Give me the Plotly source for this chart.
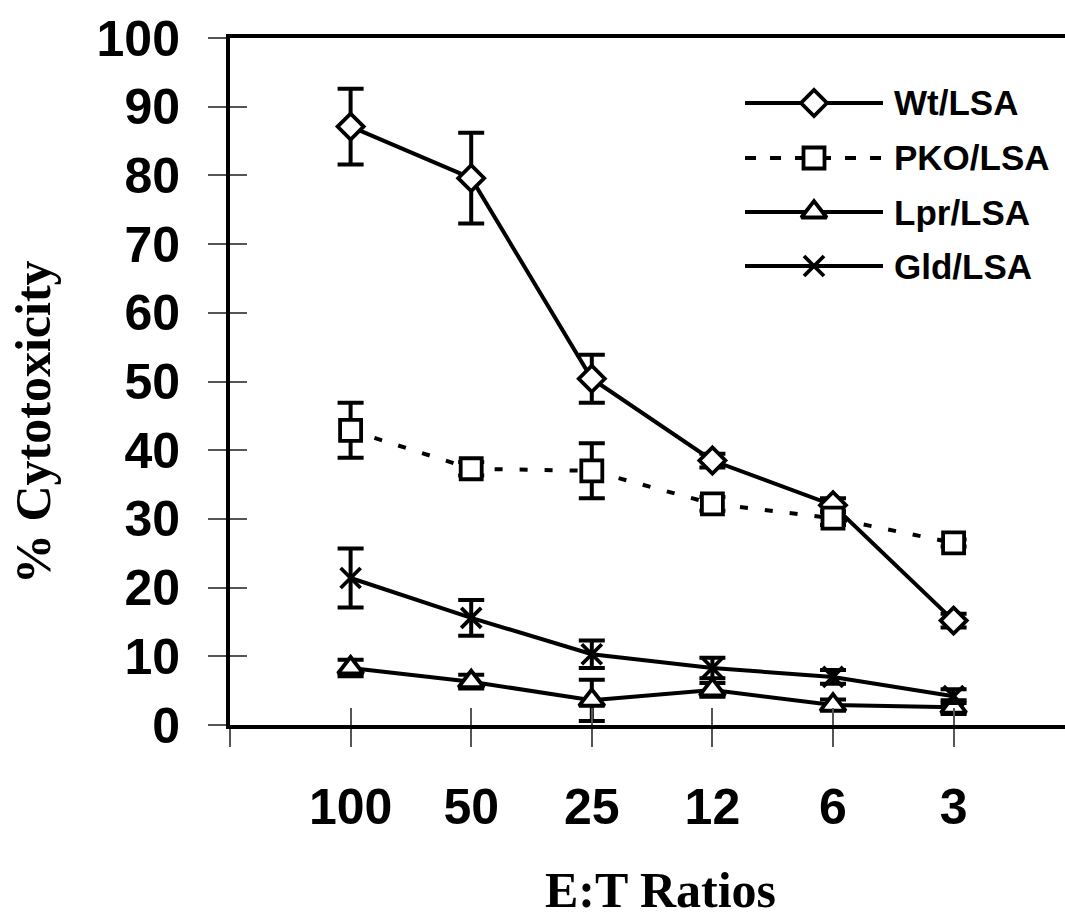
import plotly.graph_objects as go

# ---- data ----
ratios = ["100", "50", "25", "12", "6", "3"]
xpos = [1, 2, 3, 4, 5, 6]
wt = [87.1, 79.6, 50.4, 38.5, 32.0, 15.2]
wt_err = [5.5, 6.6, 3.5, 1.0, 1.0, 1.0]
pko = [42.9, 37.3, 37.0, 32.2, 30.1, 26.5]
pko_err = [4.0, 1.0, 4.0, 1.0, 1.0, 0.5]
lpr = [8.3, 6.3, 3.6, 5.1, 2.9, 2.6]
lpr_err = [1.2, 1.0, 3.0, 1.0, 0.8, 1.0]
gld = [21.4, 15.6, 10.3, 8.3, 7.0, 4.2]
gld_err = [4.3, 2.6, 2.0, 1.5, 1.0, 1.0]
series_names = ["Wt/LSA", "PKO/LSA", "Lpr/LSA", "Gld/LSA"]
y_ticks = [0, 10, 20, 30, 40, 50, 60, 70, 80, 90, 100]

W, H = 1065, 919
L, R, T, B = 230, 0, 38, 194
PW, PH = W - L - R, H - T - B
XMAX = PW / 120.6

def paper(px, py):
    return (px - L) / PW, (H - B - py) / PH

LW = 4
MLW = 3.8
styles = [
    dict(symbol="diamond", size=20, dash="solid"),
    dict(symbol="square", size=21, dash="8px,17px"),
    dict(symbol="triangle-up", size=22, dash="solid"),
    dict(symbol="x-thin", size=20, dash="solid"),
]
data = [(wt, wt_err), (pko, pko_err), (lpr, lpr_err), (gld, gld_err)]

fig = go.Figure()
for (vals, errs), st, nm in zip(data, styles, series_names):
    fig.add_trace(go.Scatter(
        x=xpos, y=vals, name=nm, mode="lines+markers",
        line=dict(color="black", width=LW, dash=st["dash"]),
        marker=dict(symbol=st["symbol"], size=st["size"], color="white",
                    line=dict(color="black", width=MLW)),
        error_y=dict(type="data", array=errs, visible=True, color="black",
                     thickness=4, width=13),
        showlegend=False, cliponaxis=False,
    ))

# overlay axes carrying the inside half of the crossing ticks
fig.add_trace(go.Scatter(x=[1], y=[0], xaxis="x2", yaxis="y2", mode="markers",
                         marker=dict(opacity=0), showlegend=False, hoverinfo="skip"))

# custom legend on a pixel-mapped overlay axis
leg_y = [103, 158, 212, 266]
leg_dash = ["solid", "11px,14px", "solid", "solid"]
for (st, nm, ly, ld) in zip(styles, series_names, leg_y, leg_dash):
    fig.add_trace(go.Scatter(x=[745, 883], y=[ly, ly], xaxis="x3", yaxis="y3",
                             mode="lines", line=dict(color="black", width=LW, dash=ld),
                             showlegend=False, hoverinfo="skip"))
    fig.add_trace(go.Scatter(x=[814], y=[ly], xaxis="x3", yaxis="y3", mode="markers",
                             marker=dict(symbol=st["symbol"], size=st["size"], color="white",
                                         line=dict(color="black", width=MLW)),
                             showlegend=False, hoverinfo="skip"))
    ax, ay = paper(892, ly)
    fig.add_annotation(x=ax, y=ay, xref="paper", yref="paper", text=nm, showarrow=False,
                       xanchor="left", yanchor="middle",
                       font=dict(family="Liberation Sans", size=35, color="black", weight="bold"))

tickfont = dict(family="Liberation Sans", size=50, color="black", weight="bold")
fig.update_layout(
    width=W, height=H,
    margin=dict(l=L, r=R, t=T, b=B, pad=0),
    paper_bgcolor="white", plot_bgcolor="white",
    xaxis=dict(range=[0, XMAX], tickvals=[0] + xpos, ticktext=[""] + ratios,
               ticks="outside", ticklen=18, tickwidth=1.5, tickcolor="#555",
               showline=True, linewidth=4, linecolor="black", mirror=True,
               showgrid=False, zeroline=False, tickfont=tickfont, ticklabelstandoff=17),
    yaxis=dict(range=[0, 100], tickvals=y_ticks, ticks="outside", ticklen=18,
               tickwidth=1.5, tickcolor="#555", showline=True, linewidth=4,
               linecolor="black", showgrid=False, zeroline=False, tickfont=tickfont,
               ticklabelstandoff=18),
    xaxis2=dict(overlaying="x", range=[0, XMAX], tickvals=xpos, ticks="inside",
                ticklen=17, tickwidth=1.5, tickcolor="#555", showticklabels=False,
                showgrid=False, zeroline=False, showline=False),
    yaxis2=dict(overlaying="y", range=[0, 100], tickvals=y_ticks, ticks="inside",
                ticklen=17, tickwidth=1.5, tickcolor="#555", showticklabels=False,
                showgrid=False, zeroline=False, showline=False),
    xaxis3=dict(overlaying="x", range=[L, W - R], visible=False),
    yaxis3=dict(overlaying="y", range=[H - B, T], visible=False),
)

tx, ty = paper(33, 422)
fig.add_annotation(x=tx, y=ty, xref="paper", yref="paper", text="% Cytotoxicity",
                   textangle=-90, showarrow=False, xanchor="center", yanchor="middle",
                   font=dict(family="Liberation Serif", size=50, color="black", weight="bold"))
ex, ey = paper(660, 890)
fig.add_annotation(x=ex, y=ey, xref="paper", yref="paper", text="E:T Ratios",
                   showarrow=False, xanchor="center", yanchor="middle", borderpad=0,
                   font=dict(family="Liberation Serif", size=50, color="black", weight="bold"))

fig.write_html("out.html")
